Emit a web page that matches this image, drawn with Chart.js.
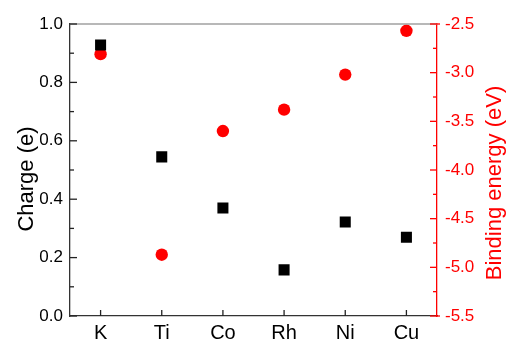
<!DOCTYPE html>
<html><head><meta charset="utf-8">
<script src="https://cdn.jsdelivr.net/npm/chart.js@4"></script>
<style>html,body{margin:0;padding:0;background:#fff}#w{width:508px;height:342px}</style>
</head><body><div id="w"><canvas id="c" width="508" height="342"></canvas></div>
<script>
const categories = ["K", "Ti", "Co", "Rh", "Ni", "Cu"];
const charge = [0.928, 0.545, 0.37, 0.158, 0.322, 0.27];
const bindingEnergy = [-2.81, -4.87, -3.60, -3.38, -3.02, -2.57];
const chargeTicks = [0.0, 0.2, 0.4, 0.6, 0.8, 1.0];
const energyTicks = [-5.5, -5.0, -4.5, -4.0, -3.5, -3.0, -2.5];
const leftTitle = "Charge (e)";
const rightTitle = "Binding energy (eV)";

const FONT = "'Liberation Sans', Arial, sans-serif";
Chart.defaults.font.family = FONT;

const tickPlugin = {
  id: 'inwardTicks',
  afterDraw(chart) {
    const ctx = chart.ctx, a = chart.chartArea;
    const yl = chart.scales.y, yr = chart.scales.y2, x = chart.scales.x;
    ctx.save();
    ctx.lineWidth = 1.3;
    // top border
    ctx.strokeStyle = '#a0a0a0';
    ctx.beginPath(); ctx.moveTo(a.left, a.top); ctx.lineTo(a.right, a.top); ctx.stroke();
    // left ticks
    ctx.strokeStyle = '#222';
    yl.ticks.forEach((t, i) => {
      const p = yl.getPixelForValue(t.value);
      ctx.beginPath(); ctx.moveTo(a.left, p); ctx.lineTo(a.left + 7, p); ctx.stroke();
      if (i < yl.ticks.length - 1) {
        const m = yl.getPixelForValue((t.value + yl.ticks[i + 1].value) / 2);
        ctx.beginPath(); ctx.moveTo(a.left, m); ctx.lineTo(a.left + 4, m); ctx.stroke();
      }
    });
    // bottom ticks
    categories.forEach((c, i) => {
      const p = x.getPixelForValue(i);
      ctx.beginPath(); ctx.moveTo(p, a.bottom); ctx.lineTo(p, a.bottom - 6); ctx.stroke();
    });
    // right ticks
    ctx.strokeStyle = '#ff0000';
    yr.ticks.forEach((t, i) => {
      const p = yr.getPixelForValue(t.value);
      ctx.beginPath(); ctx.moveTo(a.right, p); ctx.lineTo(a.right - 7, p); ctx.stroke();
      if (i < yr.ticks.length - 1) {
        const m = yr.getPixelForValue((t.value + yr.ticks[i + 1].value) / 2);
        ctx.beginPath(); ctx.moveTo(a.right, m); ctx.lineTo(a.right - 4, m); ctx.stroke();
      }
    });
    ctx.beginPath(); ctx.moveTo(a.right, a.top); ctx.lineTo(a.right + 3, a.top); ctx.stroke();
    ctx.beginPath(); ctx.moveTo(a.right, a.bottom); ctx.lineTo(a.right + 3, a.bottom); ctx.stroke();

    // axis titles (rotated -90, reading bottom to top)
    const midY = (a.top + a.bottom) / 2;
    ctx.font = "22px " + FONT;
    ctx.textAlign = 'center';
    ctx.textBaseline = 'alphabetic';
    ctx.fillStyle = '#000';
    ctx.save(); ctx.translate(33, midY + 9); ctx.rotate(-Math.PI / 2);
    ctx.fillText(leftTitle, 0, 0); ctx.restore();
    ctx.fillStyle = '#ff0000';
    ctx.save(); ctx.translate(501, midY + 13); ctx.rotate(-Math.PI / 2);
    ctx.fillText(rightTitle, 0, 0); ctx.restore();
    ctx.restore();
  }
};

new Chart(document.getElementById('c'), {
  type: 'line',
  data: {
    labels: categories,
    datasets: [
      { label: 'Charge', data: charge, yAxisID: 'y', showLine: false,
        pointStyle: 'rect', pointRadius: 7.8, pointHoverRadius: 7.8,
        backgroundColor: '#000', borderColor: '#000', borderWidth: 0 },
      { label: 'Binding energy', data: bindingEnergy, yAxisID: 'y2', showLine: false,
        pointStyle: 'circle', pointRadius: 6.2, pointHoverRadius: 6.2,
        backgroundColor: '#ff0000', borderColor: '#ff0000', borderWidth: 0 }
    ]
  },
  options: {
    responsive: false,
    animation: false,
    layout: { padding: { top: 24, left: 0, right: 0, bottom: 0 } },
    plugins: { legend: { display: false }, tooltip: { enabled: false } },
    scales: {
      x: {
        type: 'category', offset: true,
        grid: { display: false, drawTicks: false },
        border: { display: true, color: '#333', width: 1.3 },
        ticks: { color: '#000', font: { size: 20 }, padding: 5, maxRotation: 0 },
        afterFit(s) { s.height = 26; }
      },
      y: {
        position: 'left', min: 0, max: 1.0,
        afterBuildTicks(s) { s.ticks = chargeTicks.map(v => ({ value: v })); },
        grid: { display: false, drawTicks: false },
        border: { display: true, color: '#333', width: 1.3 },
        ticks: { color: '#000', font: { size: 17 }, padding: 7,
                 callback: v => v.toFixed(1) },
        afterFit(s) { s.width = 70; }
      },
      y2: {
        position: 'right', min: -5.5, max: -2.5,
        afterBuildTicks(s) { s.ticks = energyTicks.map(v => ({ value: v })); },
        grid: { display: false, drawTicks: false },
        border: { display: true, color: '#ff0000', width: 1.3 },
        ticks: { color: '#ff0000', font: { size: 17 }, padding: 8,
                 callback: v => v.toFixed(1) },
        afterFit(s) { s.width = 71; }
      }
    }
  },
  plugins: [tickPlugin]
});
</script>
</body></html>
